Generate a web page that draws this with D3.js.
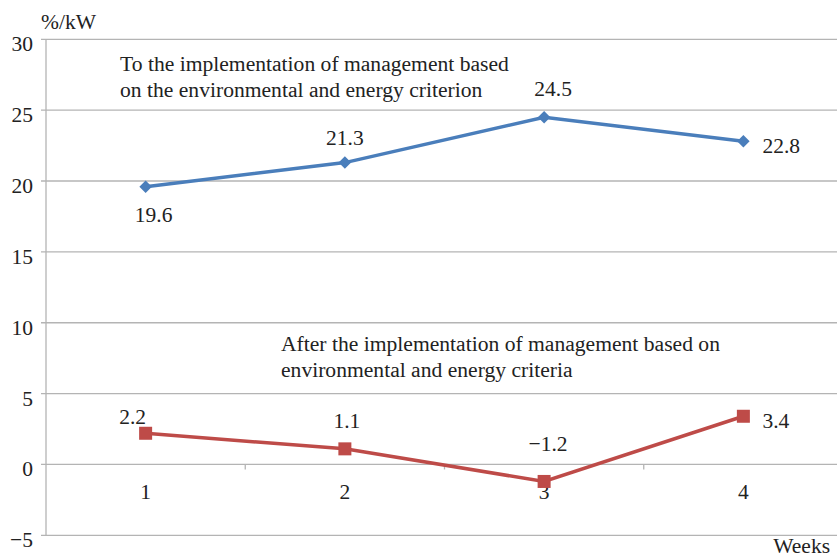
<!DOCTYPE html>
<html><head><meta charset="utf-8">
<script src="https://cdn.jsdelivr.net/npm/d3@7"></script>
<style>body{margin:0;background:#fff;overflow:hidden}svg{display:block}</style>
</head><body><svg id="c" width="837" height="558"></svg>
<script>
const categories = ["1","2","3","4"];
const beforeValues = [19.6, 21.3, 24.5, 22.8];
const afterValues = [2.2, 1.1, -1.2, 3.4];
const yTicks = [-5, 0, 5, 10, 15, 20, 25, 30];
const yTickLabels = ["\u22125","0","5","10","15","20","25","30"];
const beforeLabel = ["To the implementation of management based", "on the environmental and energy criterion"];
const afterLabel = ["After the implementation of management based on", "environmental and energy criteria"];

const FONT = '"Liberation Serif", "Times New Roman", serif';
const svg = d3.select("#c");
const L = 46, R = 843, T = 39.3, B = 535.3;
const x = d3.scaleBand().domain(categories).range([L, R]);
const y = d3.scaleLinear().domain([-5, 30]).range([B, T]);
const grid = "#b4b4b4";
const fs = "21.5px";
const txt = "#222";
const T_ = sel => sel.attr("fill", txt).style("font-family", FONT).style("font-size", fs);

svg.append("g").selectAll("line").data(yTicks).join("line")
  .attr("x1", L - 5).attr("x2", R).attr("y1", d => y(d)).attr("y2", d => y(d))
  .attr("stroke", grid).attr("stroke-width", 1.3);
svg.append("line").attr("x1", L).attr("x2", L).attr("y1", T).attr("y2", B).attr("stroke", grid).attr("stroke-width", 1.3);
svg.append("g").selectAll("line").data(categories.slice(1)).join("line")
  .attr("x1", d => x(d)).attr("x2", d => x(d)).attr("y1", y(0)).attr("y2", y(0) + 5)
  .attr("stroke", grid).attr("stroke-width", 1.3);
svg.append("g").selectAll("text").data(yTicks).join("text")
  .attr("x", 33).attr("y", d => y(d) + 12).attr("text-anchor", "end")
  .call(T_).text((d, i) => yTickLabels[i]);
svg.append("g").selectAll("text").data(categories).join("text")
  .attr("x", d => x(d) + x.bandwidth() / 2).attr("y", y(0) + 35).attr("text-anchor", "middle")
  .call(T_).text(d => d);
svg.append("text").attr("x", 41).attr("y", 29).call(T_).text("%/kW");
svg.append("text").attr("x", 830).attr("y", 553).attr("text-anchor", "end").call(T_).text("Weeks");

const cx = d => x(d) + x.bandwidth() / 2;
const line = d3.line().x(d => cx(d[0])).y(d => y(d[1]));
const bData = categories.map((c, i) => [c, beforeValues[i]]);
const aData = categories.map((c, i) => [c, afterValues[i]]);
const blue = "#4a7ebb", red = "#be4b48";
svg.append("path").attr("d", line(bData)).attr("fill", "none").attr("stroke", blue).attr("stroke-width", 3.5);
svg.append("path").attr("d", line(aData)).attr("fill", "none").attr("stroke", red).attr("stroke-width", 3.5);
svg.append("g").selectAll("path").data(bData).join("path")
  .attr("d", d3.symbol().type(d3.symbolDiamond2).size(100))
  .attr("transform", d => `translate(${cx(d[0])},${y(d[1])})`).attr("fill", blue);
svg.append("g").selectAll("rect").data(aData).join("rect")
  .attr("x", d => cx(d[0]) - 6.5).attr("y", d => y(d[1]) - 6.5).attr("width", 13).attr("height", 13).attr("fill", red);

const bOff = [[8, 35, "middle"], [0, -17.5, "middle"], [9, -21, "middle"], [19, 11.5, "start"]];
const aOff = [[-13, -9, "middle"], [2, -21, "middle"], [4, -30, "middle"], [19, 12, "start"]];
const fmt = v => v < 0 ? "\u2212" + Math.abs(v).toFixed(1) : v.toFixed(1);
svg.append("g").selectAll("text").data(bData).join("text")
  .attr("x", (d, i) => cx(d[0]) + bOff[i][0]).attr("y", (d, i) => y(d[1]) + bOff[i][1])
  .attr("text-anchor", (d, i) => bOff[i][2]).call(T_).text(d => fmt(d[1]));
svg.append("g").selectAll("text").data(aData).join("text")
  .attr("x", (d, i) => cx(d[0]) + aOff[i][0]).attr("y", (d, i) => y(d[1]) + aOff[i][1])
  .attr("text-anchor", (d, i) => aOff[i][2]).call(T_).text(d => fmt(d[1]));

svg.append("g").selectAll("text").data(beforeLabel).join("text")
  .attr("x", 120).attr("y", (d, i) => 71 + i * 25.5).call(T_).style("font-size", "21.6px").text(d => d);
svg.append("g").selectAll("text").data(afterLabel).join("text")
  .attr("x", 281).attr("y", (d, i) => 351 + i * 26).call(T_).style("font-size", "21.6px").text(d => d);
</script></body></html>
